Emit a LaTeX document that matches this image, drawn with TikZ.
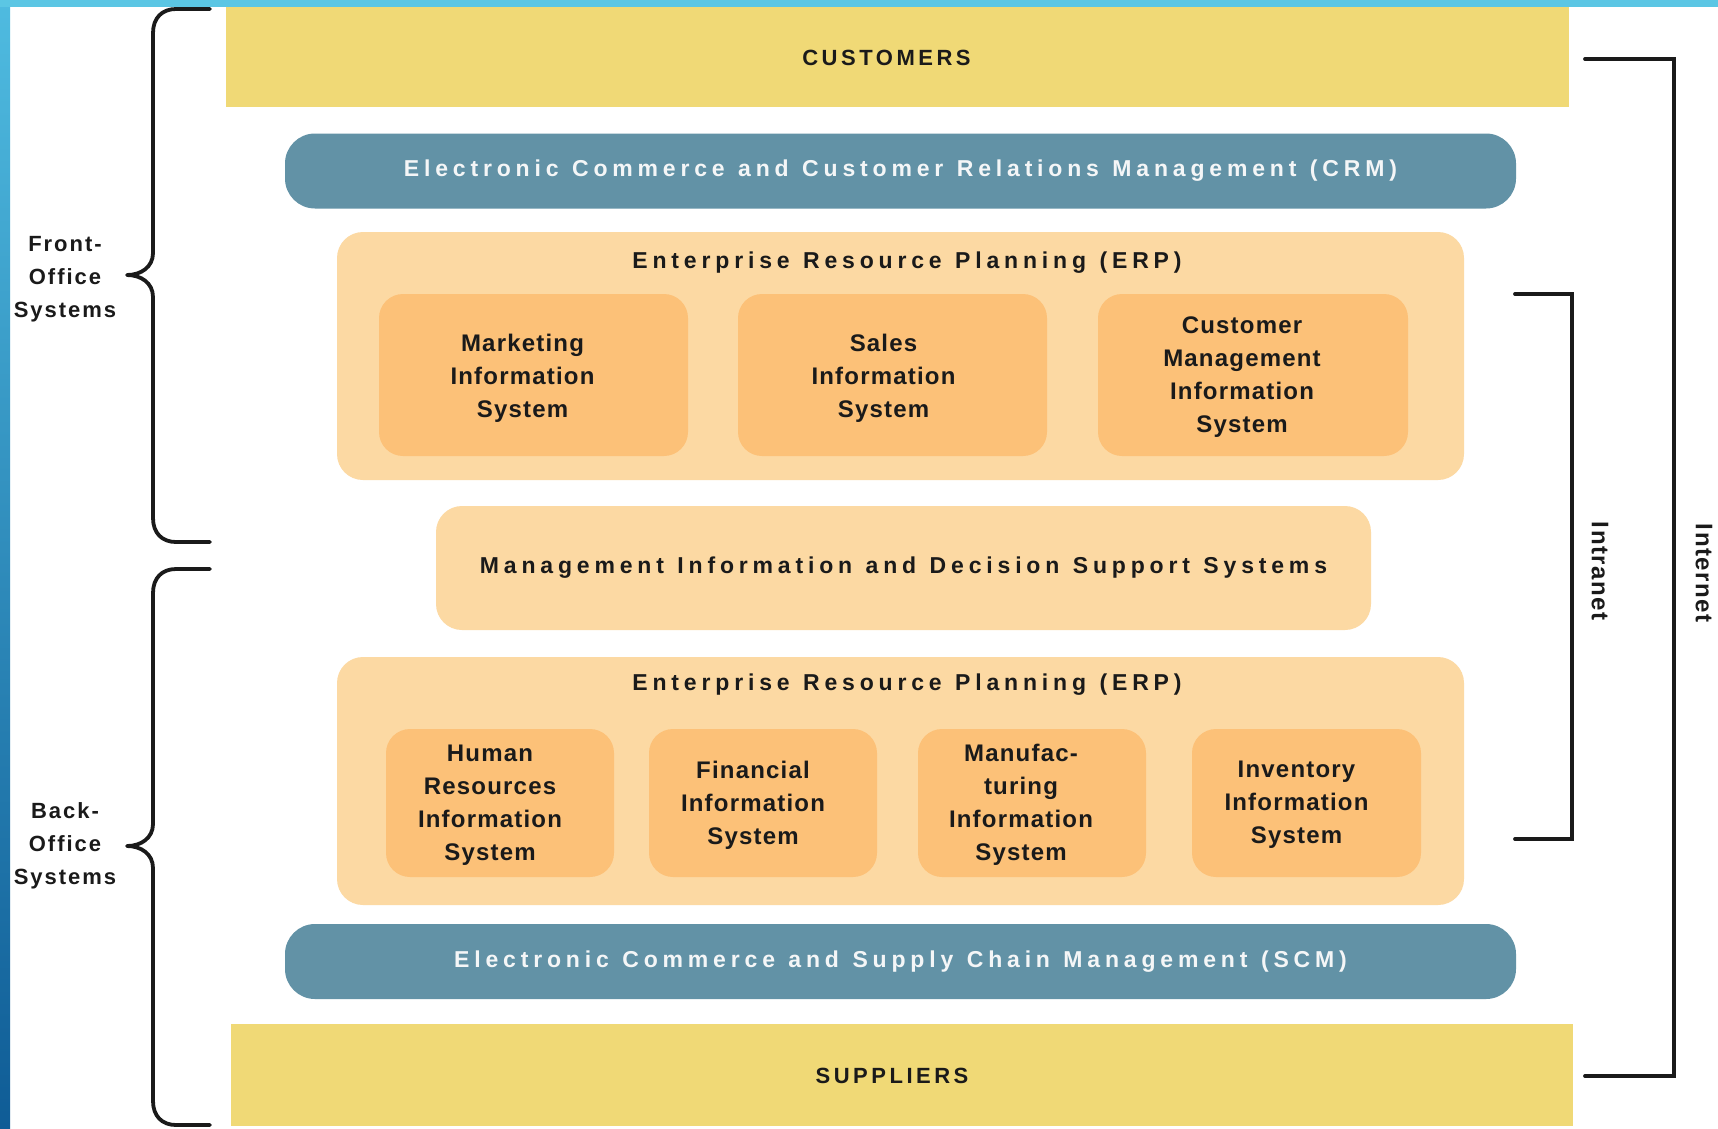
\documentclass[tikz,border=0pt]{standalone}
\usepackage{fontspec}
\setmainfont{Liberation Sans}
% letter-spaced faces for the different text groups
\newfontfamily\bandfont{Liberation Sans}[LetterSpace=21, WordSpace=1.2]
\newfontfamily\endfont{Liberation Sans}[LetterSpace=16]
\newfontfamily\boxfont{Liberation Sans}[LetterSpace=5]
\newfontfamily\sidefont{Liberation Sans}[LetterSpace=9]
\newfontfamily\netfont{Liberation Sans}[LetterSpace=6]

\definecolor{framecyan}{HTML}{5BC6E4}
\definecolor{frametop}{HTML}{4FBBE0}
\definecolor{framebot}{HTML}{0F5C96}
\definecolor{endyellow}{HTML}{F0D976}
\definecolor{bandblue}{HTML}{6292A6}
\definecolor{erppeach}{HTML}{FCD9A3}
\definecolor{modorange}{HTML}{FCC178}
\definecolor{inkdark}{HTML}{1A1A1A}
\definecolor{bandtext}{HTML}{F4F6F7}

\newcommand\sidebrace[3]{%
  \draw[bracestroke] (210,#1) -- (176,#1)
    .. controls (162,#1) and (153,#1+9) .. (153,#1+24)
    -- (153,#2-22) .. controls (153,#2-8) and (141,#2) .. (127,#2)
    .. controls (141,#2) and (153,#2+8) .. (153,#2+22)
    -- (153,#3-24) .. controls (153,#3-9) and (162,#3) .. (176,#3) -- (210,#3);}

\begin{document}
\begin{tikzpicture}[x=1pt,y=-1pt,
  endbox/.style={fill=endyellow, inner sep=0, outer sep=0},
  band/.style={fill=bandblue, rounded corners=30, inner sep=0, outer sep=0,
    minimum width=1231, minimum height=75, text=bandtext,
    font=\bandfont\bfseries\fontsize{23}{23}\selectfont},
  erpbox/.style={fill=erppeach, rounded corners=26, inner sep=0, outer sep=0,
    minimum width=1127, minimum height=248},
  modbox/.style={fill=modorange, rounded corners=24, inner sep=0, outer sep=0},
  modtext/.style={align=center, text=inkdark, inner sep=0,
    font=\boxfont\bfseries\fontsize{24}{33}\selectfont},
  erptitle/.style={text=inkdark, inner sep=0,
    font=\bandfont\bfseries\fontsize{23}{23}\selectfont},
  endtext/.style={text=inkdark, inner sep=0,
    font=\endfont\bfseries\fontsize{22}{22}\selectfont},
  sidetext/.style={align=center, text=inkdark, inner sep=0,
    font=\sidefont\bfseries\fontsize{22}{33}\selectfont},
  nettext/.style={text=inkdark, inner sep=0, rotate=-90,
    font=\netfont\bfseries\fontsize{24}{24}\selectfont},
  bracestroke/.style={line width=3.8, line cap=round, line join=round, inkdark},
  netline/.style={line width=3.8, line cap=round, line join=miter, inkdark}]

\useasboundingbox (0,0) rectangle (1718,1128);
\fill[white] (0,0) rectangle (1718,1128);

% frame along the top and left edges
\shade[top color=frametop, bottom color=framebot] (0,0) rectangle (10,1128);
\fill[framecyan] (0,0) rectangle (1718,7);

% customers / suppliers
\node[endbox, minimum width=1343, minimum height=100] (cust) at (897.5,57) {};
\node[endtext] (custt) at ([xshift=-11,yshift=-1]cust.center) {CUSTOMERS};
\node[endbox, minimum width=1342, minimum height=102] (supp) at (902,1075) {};
\node[endtext] (suppt) at ([xshift=-10,yshift=-1]supp.center) {SUPPLIERS};

% e-commerce bands
\node[band] (crm) at (900.5,171) {Electronic Commerce and Customer Relations Management (CRM)};
\node[band] (scm) at (900.5,961.5) {Electronic Commerce and Supply Chain Management (SCM)};

% front-office ERP
\node[erpbox] (erpf) at (900.5,356) {};
\node[erptitle] (erpft) at (907,263) {Enterprise Resource Planning (ERP)};
\node[modbox, minimum width=309, minimum height=162] (mkt) at (533.5,375) {};
\node[modbox, minimum width=309, minimum height=162] (sales) at (892.5,375) {};
\node[modbox, minimum width=310, minimum height=162] (cmis) at (1253,375) {};
\node[modtext] at ([xshift=-11,yshift=-3]mkt.center) {Marketing\\Information\\System};
\node[modtext] at ([xshift=-9,yshift=-3]sales.center) {Sales\\Information\\System};
\node[modtext] at ([xshift=-11,yshift=-2]cmis.center) {Customer\\Management\\Information\\System};

% management information
\node[fill=erppeach, rounded corners=26, inner sep=0, outer sep=0,
  minimum width=935, minimum height=124, text=inkdark,
  font=\bandfont\bfseries\fontsize{23}{23}\selectfont] (mis) at (903.5,568)
  {Management Information and Decision Support Systems};

% back-office ERP
\node[erpbox] (erpb) at (900.5,781) {};
\node[erptitle] (erpbt) at (907,685) {Enterprise Resource Planning (ERP)};
\node[modbox, minimum width=228, minimum height=148] (hr) at (500,803) {};
\node[modbox, minimum width=228, minimum height=148] (fin) at (763,803) {};
\node[modbox, minimum width=228, minimum height=148] (man) at (1032,803) {};
\node[modbox, minimum width=229, minimum height=148] (inv) at (1306.5,803) {};
\node[modtext] at ([xshift=-10,yshift=-2]hr.center) {Human\\Resources\\Information\\System};
\node[modtext] at ([xshift=-10,yshift=-2]fin.center) {Financial\\Information\\System};
\node[modtext] at ([xshift=-11,yshift=-2]man.center) {Manufac-\\turing\\Information\\System};
\node[modtext] at ([xshift=-10,yshift=-2]inv.center) {Inventory\\Information\\System};

% left braces and their labels
\sidebrace{9}{275}{542}
\sidebrace{569}{846}{1125}
\node[sidetext] (front) at (65,279) {Front-\\Office\\Systems};
\node[sidetext] (back) at (65,846) {Back-\\Office\\Systems};

% right brackets: intranet and internet
\coordinate (intra-top) at (1515,294);
\coordinate (intra-bot) at (1515,839);
\coordinate (inter-top) at (1585,59);
\coordinate (inter-bot) at (1585,1076);
\draw[netline] (intra-top) -- (1572,294) -- (1572,839) -- (intra-bot);
\draw[netline] (inter-top) -- (1674,59) -- (1674,1076) -- (inter-bot);
\node[nettext] (intra) at (1600,571) {Intranet};
\node[nettext] (inter) at (1704,573) {Internet};

\end{tikzpicture}
\end{document}
